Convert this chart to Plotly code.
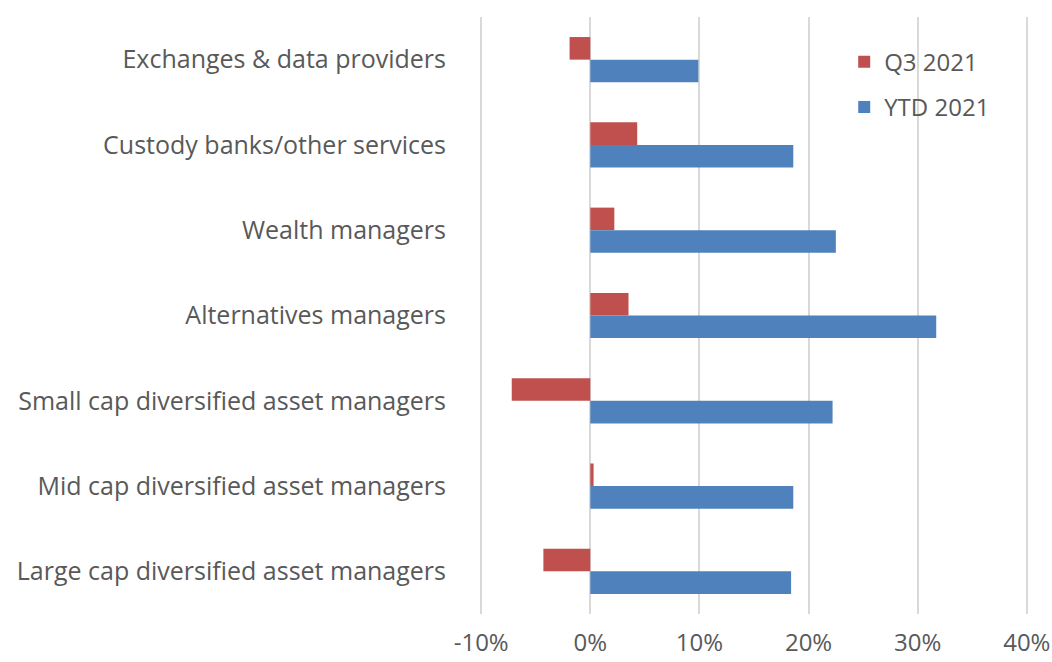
import plotly.graph_objects as go

categories = [
    "Exchanges & data providers",
    "Custody banks/other services",
    "Wealth managers",
    "Alternatives managers",
    "Small cap diversified asset managers",
    "Mid cap diversified asset managers",
    "Large cap diversified asset managers",
]
q3_2021 = [-0.019, 0.043, 0.022, 0.035, -0.072, 0.003, -0.043]
ytd_2021 = [0.099, 0.186, 0.225, 0.317, 0.222, 0.186, 0.184]
x_ticks = [-0.1, 0.0, 0.1, 0.2, 0.3, 0.4]
x_tick_labels = ["-10%", "0%", "10%", "20%", "30%", "40%"]

FONT = "Open Sans"
TXT = "#595959"
GRID = "#D9D9D9"

fig = go.Figure()
fig.add_trace(go.Bar(
    y=categories, x=q3_2021, orientation="h", name="Q3 2021",
    marker=dict(color="#C0504D", line=dict(width=0)),
    legendgroup="a",
))
fig.add_trace(go.Bar(
    y=categories, x=ytd_2021, orientation="h", name="YTD 2021",
    marker=dict(color="#4F81BD", line=dict(width=0)),
    legendgroup="b",
))

fig.update_layout(
    width=1052, height=662,
    margin=dict(l=479, r=23, t=17, b=48, autoexpand=False),
    paper_bgcolor="white", plot_bgcolor="white",
    barmode="group", bargap=0.47, bargroupgap=0,
    font=dict(family=FONT, size=24, color=TXT),
    legend=dict(
        x=0.664, y=0.962, xanchor="left", yanchor="top",
        traceorder="grouped", tracegroupgap=11,
        font=dict(family=FONT, size=24, color=TXT),
        bgcolor="rgba(0,0,0,0)", itemwidth=30,
    ),
    xaxis=dict(
        range=[-0.102, 0.402], tickvals=x_ticks, ticktext=x_tick_labels,
        showgrid=True, gridcolor=GRID, gridwidth=1.5,
        zeroline=True, zerolinecolor=GRID, zerolinewidth=1.5,
        showline=False, ticks="", ticklabelstandoff=12,
        fixedrange=True, automargin=False,
    ),
    yaxis=dict(
        autorange="reversed", showgrid=False, showline=False, ticks="",
        ticklabelstandoff=32, fixedrange=True, automargin=False,
        tickfont=dict(family=FONT, size=25, color=TXT),
    ),
)

fig.write_html(
    "out.html",
    config={"displayModeBar": False},
    post_script="document.body.style.margin='0';",
)
